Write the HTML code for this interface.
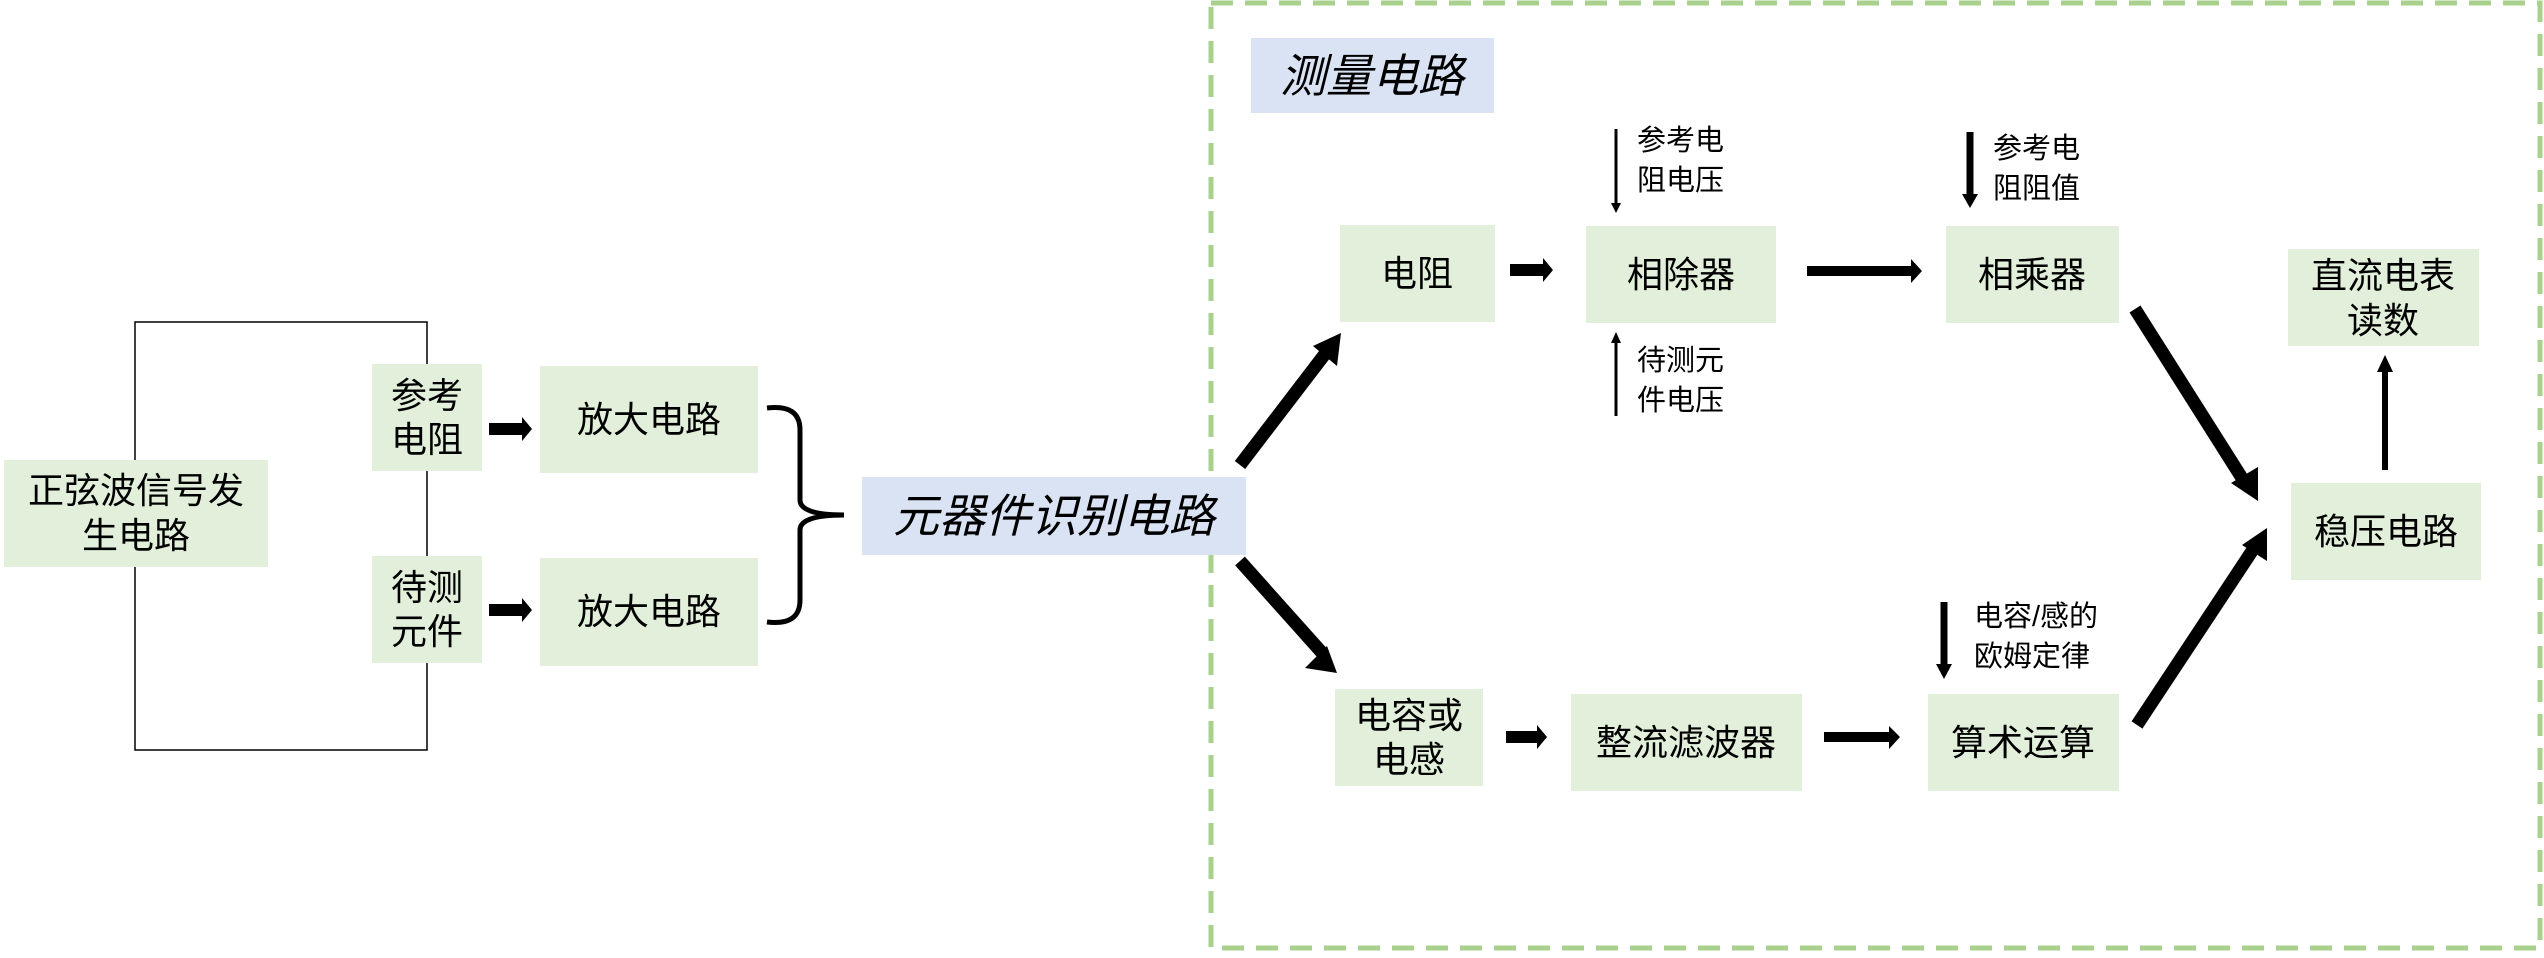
<!DOCTYPE html>
<html><head><meta charset="utf-8"><style>
html,body{margin:0;padding:0;background:#fff}
svg text{font-family:"Liberation Sans","Noto Sans CJK SC",sans-serif;fill:#000}
</style></head><body>
<svg width="2544" height="953" viewBox="0 0 2544 953" xmlns="http://www.w3.org/2000/svg">
<defs>
<marker id="ah" markerWidth="6" markerHeight="6" refX="3" refY="3" orient="auto" markerUnits="userSpaceOnUse"><path d="M0,0 L6,3 L0,6z"/></marker>
</defs>
<!-- dashed region -->
<rect x="1211" y="3" width="1329" height="945" fill="none" stroke="#a9d18e" stroke-width="5" stroke-dasharray="22,12"/>
<!-- bracket lines -->
<polyline points="427,364 427,322 135,322 135,460" fill="none" stroke="#000" stroke-width="1.5"/>
<polyline points="135,567 135,750 427,750 427,663" fill="none" stroke="#000" stroke-width="1.5"/>
<line x1="427" y1="471" x2="427" y2="556" stroke="#000" stroke-width="1.5"/>
<!-- boxes -->
<g fill="#e2efda">
<rect x="4" y="460" width="264" height="107"/>
<rect x="372" y="364" width="110" height="107"/>
<rect x="372" y="556" width="110" height="107"/>
<rect x="540" y="366" width="218" height="107"/>
<rect x="540" y="558" width="218" height="108"/>
<rect x="1340" y="225" width="155" height="97"/>
<rect x="1586" y="226" width="190" height="97"/>
<rect x="1946" y="226" width="173" height="97"/>
<rect x="2288" y="249" width="191" height="97"/>
<rect x="2291" y="483" width="190" height="97"/>
<rect x="1335" y="689" width="148" height="97"/>
<rect x="1571" y="694" width="231" height="97"/>
<rect x="1928" y="694" width="191" height="97"/>
</g>
<g fill="#dae3f3">
<rect x="862" y="477" width="384" height="78"/>
<rect x="1251" y="38" width="243" height="75"/>
</g>
<!-- text -->
<g font-size="36" text-anchor="middle">
<text x="136" y="503">正弦波信号发</text>
<text x="136" y="548">生电路</text>
<text x="427" y="408">参考</text>
<text x="427" y="452">电阻</text>
<text x="427" y="600">待测</text>
<text x="427" y="644">元件</text>
<text x="649" y="432">放大电路</text>
<text x="649" y="624">放大电路</text>
<text x="1417" y="286">电阻</text>
<text x="1681" y="287">相除器</text>
<text x="2032" y="287">相乘器</text>
<text x="2383" y="288">直流电表</text>
<text x="2383" y="333">读数</text>
<text x="2386" y="544">稳压电路</text>
<text x="1409" y="728">电容或</text>
<text x="1409" y="772">电感</text>
<text x="1686" y="755">整流滤波器</text>
<text x="2023" y="755">算术运算</text>
</g>
<g font-size="46" font-style="italic" text-anchor="middle">
<text x="1054" y="532">元器件识别电路</text>
<text x="1372" y="92">测量电路</text>
</g>
<g font-size="29">
<text x="1637" y="150">参考电</text>
<text x="1637" y="190">阻电压</text>
<text x="1637" y="370">待测元</text>
<text x="1637" y="410">件电压</text>
<text x="1993" y="158">参考电</text>
<text x="1993" y="198">阻阻值</text>
<text x="1974" y="626">电容/感的</text>
<text x="1974" y="666">欧姆定律</text>
</g>
<!-- brace -->
<path d="M767,408 Q800,404 800,430 L800,500 Q800,515 844,515 Q800,515 800,530 L800,600 Q800,626 767,622" fill="none" stroke="#000" stroke-width="5"/>
<!-- block arrows -->
<g fill="#000">
<polygon points="489,423 522,423 522,417 532,429 522,441 522,435 489,435"/>
<polygon points="489,604 522,604 522,598 532,610 522,622 522,616 489,616"/>
<polygon points="1510,264 1543,264 1543,258 1553,270 1543,282 1543,276 1510,276"/>
<polygon points="1807,266 1911,266 1911,259 1922,271 1911,283 1911,276 1807,276"/>
<polygon points="1506,731 1537,731 1537,725 1547,737 1537,749 1537,743 1506,743"/>
<polygon points="1824,732 1889,732 1889,726 1900,737 1889,749 1889,742 1824,742"/>
</g>
<!-- thin / medium vertical arrows -->
<line x1="1616" y1="129" x2="1616" y2="204" stroke="#000" stroke-width="3"/>
<polygon points="1611,203 1621,203 1616,213"/>
<line x1="1616" y1="416" x2="1616" y2="342" stroke="#000" stroke-width="3"/>
<polygon points="1611,343 1621,343 1616,332"/>
<line x1="1970" y1="132" x2="1970" y2="195" stroke="#000" stroke-width="7"/>
<polygon points="1962,194 1978,194 1970,208"/>
<line x1="1944" y1="602" x2="1944" y2="665" stroke="#000" stroke-width="7"/>
<polygon points="1936,664 1952,664 1944,679"/>
<line x1="2385" y1="470" x2="2385" y2="370" stroke="#000" stroke-width="6"/>
<polygon points="2377,372 2393,372 2385,355"/>
<!-- diagonal thick arrows -->
<g stroke="#000" stroke-width="13" fill="none">
<line x1="1240" y1="465" x2="1328" y2="350"/>
<line x1="1240" y1="561" x2="1324" y2="655"/>
<line x1="2135" y1="309" x2="2247" y2="486"/>
<line x1="2137" y1="725" x2="2256" y2="545"/>
</g>
<g fill="#000">
<polygon points="1341,333 1337,366 1313,346"/>
<polygon points="1337,673 1305,668 1327,646"/>
<polygon points="2258,501 2231,483 2258,467"/>
<polygon points="2267,528 2267,561 2242,545"/>
</g>
</svg>
</body></html>
